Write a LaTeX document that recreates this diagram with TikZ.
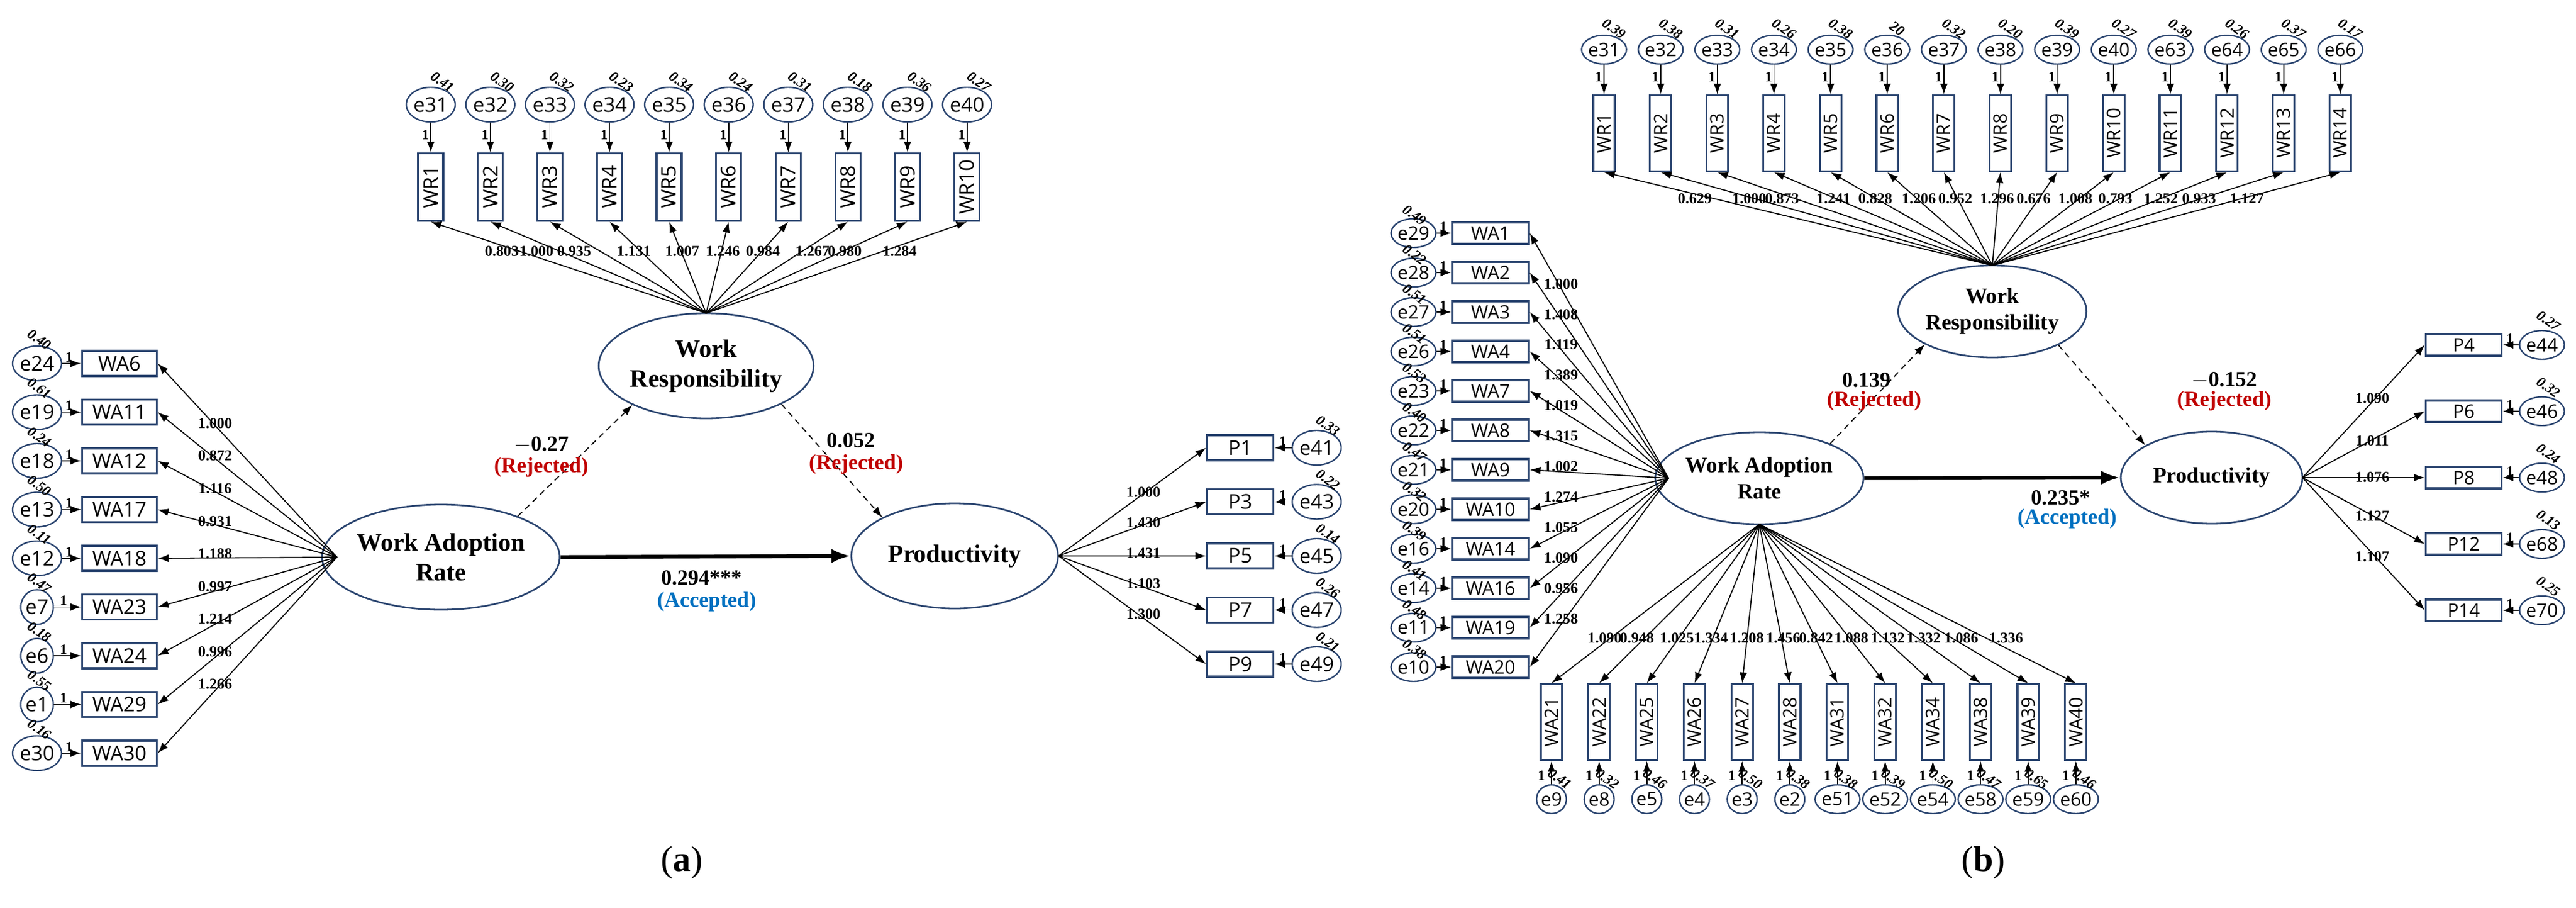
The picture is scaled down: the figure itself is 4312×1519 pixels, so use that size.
\documentclass[tikz,border=0pt]{standalone}
\usepackage{fontspec}
\setmainfont{Liberation Serif}
\newfontfamily\boxf{Open Sans}
\usetikzlibrary{shapes.geometric,arrows.meta}
\definecolor{nv}{HTML}{2B4570}
\definecolor{rej}{HTML}{C00000}
\definecolor{acc}{HTML}{0070C0}
\begin{document}
\begin{tikzpicture}[x=0.25pt,y=-0.25pt,
 ar/.style={-{Latex[length=4.5pt,width=3.2pt]}, line width=0.45pt},
 dsh/.style={-{Latex[length=4.5pt,width=3.2pt]}, line width=0.45pt, dash pattern=on 2.5pt off 1.8pt},
 main/.style={-{Latex[length=8pt,width=6pt]}, line width=1.6pt},
 obs/.style={draw=nv, line width=0.8pt, inner sep=0pt},
 obsA/.style={obs, minimum width=31.25pt, minimum height=10.5pt, font=\boxf\fontsize{8.5}{9}\selectfont},
 obsAv/.style={obs, minimum width=10.5pt, minimum height=28.25pt, font=\boxf\fontsize{8.5}{9}\selectfont},
 obsB/.style={obs, minimum width=32pt, minimum height=9pt, font=\boxf\fontsize{7.8}{8}\selectfont},
 obsBv/.style={obs, minimum width=9pt, minimum height=31.75pt, font=\boxf\fontsize{7.8}{8}\selectfont},
 errA/.style={ellipse, draw=nv, line width=0.6pt, minimum width=13.5pt, minimum height=14.5pt, inner sep=0pt, font=\boxf\fontsize{8.5}{9}\selectfont},
 errB/.style={ellipse, draw=nv, line width=0.6pt, minimum width=11.5pt, minimum height=12pt, inner sep=0pt, font=\boxf\fontsize{7.8}{8}\selectfont},
 latA/.style={ellipse, draw=nv, line width=0.7pt, minimum width=86.5pt, minimum height=44pt, inner sep=0pt, align=center, font=\bfseries\fontsize{10.5}{12.5}\selectfont},
 latB/.style={ellipse, draw=nv, line width=0.7pt, minimum width=76pt, minimum height=38.5pt, inner sep=0pt, align=center, font=\bfseries\fontsize{9.2}{11}\selectfont},
 var/.style={font=\bfseries\itshape\fontsize{6}{6}\selectfont, rotate=-35, inner sep=0pt},
 one/.style={font=\bfseries\fontsize{6}{6}\selectfont, inner sep=0.5pt},
 ld/.style={font=\bfseries\fontsize{6.3}{7}\selectfont, inner sep=0pt},
 pth/.style={font=\bfseries\fontsize{9}{10}\selectfont, inner sep=0pt}]
\useasboundingbox (0,0) rectangle (4312,1519);

% ================= Panel (a) =================
\node[latA] (waA) at (738,932) {Work Adoption\\Rate};
\node[latA] (wrA) at (1182,612) {Work\\Responsibility};
\node[latA] (prA) at (1598,930) {Productivity};
\coordinate (waAf) at (564,932);
\coordinate (wrAf) at (1182,524);
\coordinate (prAf) at (1772,930);

\foreach \b/\e/\v/\l [count=\i from 0] in {WA6/e24/0.40/1.000, WA11/e19/0.61/0.872, WA12/e18/0.24/1.116, WA17/e13/0.50/0.931, WA18/e12/0.11/1.188, WA23/e7/0.47/0.997, WA24/e6/0.18/1.214, WA29/e1/0.55/0.996, WA30/e30/0.16/1.266}{
  \pgfmathsetmacro{\yy}{608+81.5*\i}
  \node[obsA] (aL\i) at (200,\yy) {\b};
  \node[errA] (aLe\i) at (62,\yy) {\e};
  \node[var] (aLv\i) at (66,\yy-40) {\v};
  \draw[ar] (aLe\i) -- node[one, above, pos=0.35] (aLo\i) {1} (aL\i);
  \draw[ar] (waAf) -- (aL\i.east);
  \node[ld] (aLl\i) at (360,708+54.6*\i) {\l};
}

\foreach \b/\e/\v/\l/\lx [count=\i from 0] in {WR1/e31/0.41/0.803/840, WR2/e32/0.30/1.000/898, WR3/e33/0.32/0.935/961, WR4/e34/0.23/1.131/1061, WR5/e35/0.34/1.007/1142, WR6/e36/0.24/1.246/1210, WR7/e37/0.31/0.984/1277, WR8/e38/0.18/1.267/1360, WR9/e39/0.36/0.980/1414, WR10/e40/0.27/1.284/1506}{
  \pgfmathsetmacro{\xx}{721+99.75*\i}
  \node[obsAv] (aT\i) at (\xx,313) {\rotatebox{90}{\b}};
  \node[errA] (aTe\i) at (\xx,175) {\e};
  \node[var] (aTv\i) at (\xx+20,137) {\v};
  \draw[ar] (aTe\i) -- node[one, left, pos=0.4] (aTo\i) {1} (aT\i);
  \draw[ar] (wrAf) -- (aT\i.south);
  \node[ld] (aTl\i) at (\lx,420) {\l};
}

\foreach \b/\e/\v/\l [count=\i from 0] in {P1/e41/0.33/1.000, P3/e43/0.22/1.430, P5/e45/0.14/1.431, P7/e47/0.26/1.103, P9/e49/0.21/1.300}{
  \pgfmathsetmacro{\yy}{749+90.5*\i}
  \node[obsA, minimum width=27.75pt] (aR\i) at (2076,\yy) {\b};
  \node[errA] (aRe\i) at (2204,\yy) {\e};
  \node[var] (aRv\i) at (2223,\yy-37) {\v};
  \draw[ar] (aRe\i) -- node[one, above, pos=0.5] (aRo\i) {1} (aR\i);
  \draw[ar] (prAf) -- (aR\i.west);
  \node[ld] (aRl\i) at (1914,823+51*\i) {\l};
}

\draw[dsh] (waA.28) -- (wrA.208);
\draw[dsh] (wrA.333) -- (prA.152);
\draw[main] (waA.east) -- (prA.west);
\node[pth] (pA1) at (906,744) {$-$0.27};
\node[pth, text=rej] (pA1r) at (906,782) {(Rejected)};
\node[pth] (pA2) at (1424,737) {0.052};
\node[pth, text=rej] (pA2r) at (1433,777) {(Rejected)};
\node[pth] (pA3) at (1174,967) {0.294***};
\node[pth, text=acc] (pA3r) at (1183,1007) {(Accepted)};
\node[font=\fontsize{15}{16}\selectfont] (capA) at (1141,1443) {(\textbf{a})};

% ================= Panel (b) =================
\node[latB] (waB) at (2945,800) {Work Adoption\\Rate};
\node[latB] (wrB) at (3335,521) {Work\\Responsibility};
\node[latB] (prB) at (3702,799) {Productivity};
\coordinate (waBf) at (2793,800);
\coordinate (waBb) at (2945,877);
\coordinate (wrBf) at (3335,444);
\coordinate (prBf) at (3854,799);

\foreach \b/\e/\v/\l [count=\i from 0] in {WA1/e29/0.49/1.000, WA2/e28/0.22/1.408, WA3/e27/0.51/1.119, WA4/e26/0.51/1.389, WA7/e23/0.53/1.019, WA8/e22/0.40/1.315, WA9/e21/0.47/1.002, WA10/e20/0.32/1.274, WA14/e16/0.39/1.055, WA16/e14/0.41/1.090, WA19/e11/0.48/0.956, WA20/e10/0.38/1.258}{
  \pgfmathsetmacro{\yy}{390+66*\i}
  \node[obsB] (bL\i) at (2495,\yy) {\b};
  \node[errB] (bLe\i) at (2366,\yy) {\e};
  \node[var] (bLv\i) at (2368,\yy-30) {\v};
  \draw[ar] (bLe\i) -- node[one, above, pos=0.45] (bLo\i) {1} (bL\i);
  \draw[ar] (waBf) -- (bL\i.east);
  \node[ld] (bLl\i) at (2613,475+50.9*\i) {\l};
}

\foreach \b/\e/\v/\l/\lx [count=\i from 0] in {WR1/e31/0.39/0.629/2837, WR2/e32/0.38/1.000/2928, WR3/e33/0.31/0.873/2983, WR4/e34/0.26/1.241/3069, WR5/e35/0.38/0.828/3139, WR6/e36/20/1.206/3212, WR7/e37/0.32/0.952/3273, WR8/e38/0.20/1.296/3343, WR9/e39/0.39/0.676/3404, WR10/e40/0.27/1.008/3474, WR11/e63/0.39/0.793/3541, WR12/e64/0.26/1.252/3617, WR13/e65/0.37/0.933/3681, WR14/e66/0.17/1.127/3761}{
  \pgfmathsetmacro{\xx}{2685+94.8*\i}
  \node[obsBv] (bT\i) at (\xx,223) {\rotatebox{90}{\b}};
  \node[errB] (bTe\i) at (\xx,83) {\e};
  \node[var] (bTv\i) at (\xx+17,48) {\v};
  \draw[ar] (bTe\i) -- node[one, left, pos=0.4] (bTo\i) {1} (bT\i);
  \draw[ar] (wrBf) -- (bT\i.south);
  \node[ld] (bTl\i) at (\lx,332) {\l};
}

\foreach \b/\e/\v/\l/\lx [count=\i from 0] in {WA21/e9/0.41/1.090/2686, WA22/e8/0.32/0.948/2740, WA25/e5/0.46/1.025/2807, WA26/e4/0.37/1.334/2864, WA27/e3/0.50/1.208/2924, WA28/e2/0.38/1.456/2985, WA31/e51/0.38/0.842/3040, WA32/e52/0.39/1.088/3099, WA34/e54/0.50/1.132/3160, WA38/e58/0.47/1.332/3220, WA39/e59/0.65/1.086/3283, WA40/e60/0.46/1.336/3358}{
  \pgfmathsetmacro{\xx}{2597+79.8*\i}
  \node[obsBv] (bB\i) at (\xx,1208) {\rotatebox{90}{\b}};
  \node[errB] (bBe\i) at (\xx,1337) {\e};
  \node[var] (bBv\i) at (\xx+14,1303) {\v};
  \draw[ar] (bBe\i) -- (bB\i);
  \node[one] (bBo\i) at (\xx-17,1298) {1};
  \draw[ar] (waBb) -- (bB\i.north);
  \node[ld] (bBl\i) at (\lx,1067) {\l};
}

\foreach \b/\e/\v/\l/\ly [count=\i from 0] in {P4/e44/0.27/1.090/666, P6/e46/0.32/1.011/737, P8/e48/0.24/1.076/798, P12/e68/0.13/1.127/863, P14/e70/0.25/1.107/931}{
  \pgfmathsetmacro{\yy}{577+111*\i}
  \node[obsB, minimum width=31.75pt] (bR\i) at (4124,\yy) {\b};
  \node[errB] (bRe\i) at (4255,\yy) {\e};
  \node[var] (bRv\i) at (4266,\yy-40) {\v};
  \draw[ar] (bRe\i) -- node[one, above, pos=0.55] (bRo\i) {1} (bR\i);
  \draw[ar] (prBf) -- (bR\i.west);
  \node[ld] (bRl\i) at (3971,\ly) {\l};
}

\draw[dsh] (waB.26) -- (wrB.206);
\draw[dsh] (wrB.333) -- (prB.154);
\draw[main] (waB.east) -- (prB.west);
\node[pth] (pB1) at (3124,636) {0.139};
\node[pth, text=rej] (pB1r) at (3137,671) {(Rejected)};
\node[pth] (pB2) at (3723,636) {$-$0.152};
\node[pth, text=rej] (pB2r) at (3723,671) {(Rejected)};
\node[pth] (pB3) at (3449,833) {0.235*};
\node[pth, text=acc] (pB3r) at (3460,868) {(Accepted)};
\node[font=\fontsize{15}{16}\selectfont] (capB) at (3320,1443) {(\textbf{b})};
\end{tikzpicture}
\end{document}
